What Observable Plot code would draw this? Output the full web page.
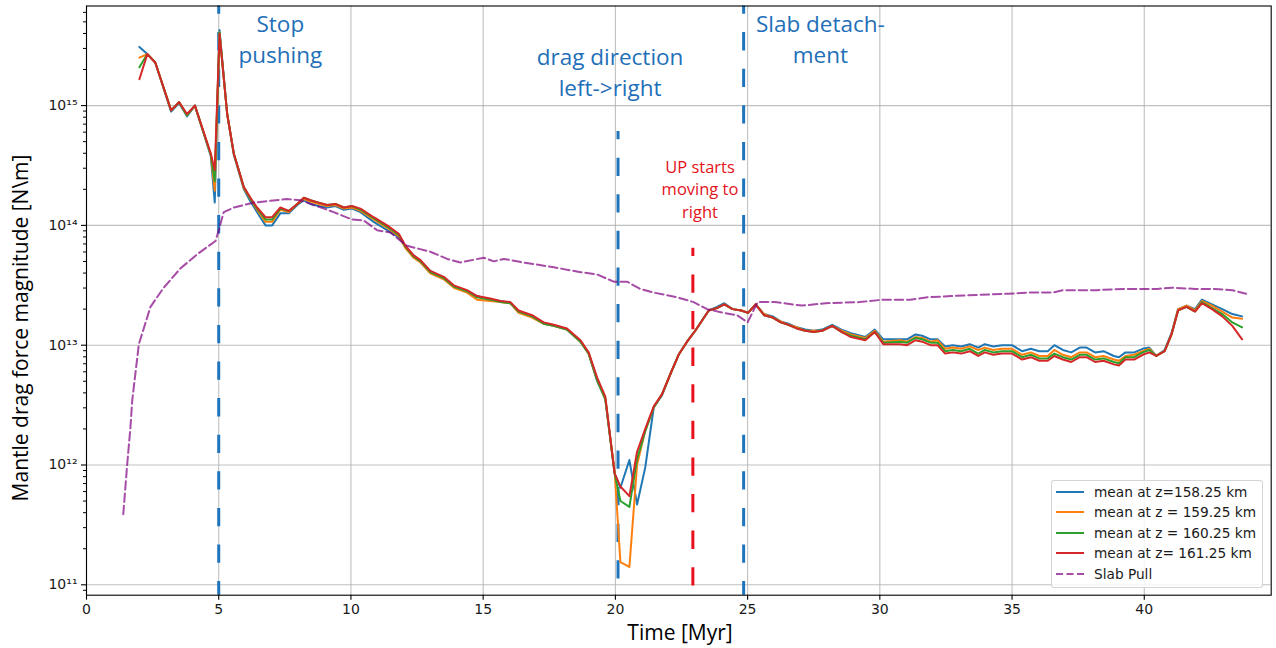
<!DOCTYPE html>
<html>
<head>
<meta charset="utf-8">
<script src="https://cdn.jsdelivr.net/npm/d3@7"></script>
<script src="https://cdn.jsdelivr.net/npm/@observablehq/plot@0.6"></script>
<style>
  html, body { margin: 0; padding: 0; background: #fff; }
  #wrap { position: relative; width: 1276px; height: 648px; overflow: hidden; }
  #chart svg { display: block; }
  .ylab { position: absolute; left: 20px; top: 328px; transform: translate(-50%, -50%) rotate(-90deg);
          font-family: "Open Sans"; font-size: 21px; white-space: nowrap; color: #000; line-height: 1; }
  .xlab { position: absolute; left: 680px; top: 632px; transform: translate(-50%, -50%);
          font-family: "Open Sans"; font-size: 21px; white-space: nowrap; color: #000; line-height: 1; }
  .legend { position: absolute; left: 1051px; top: 480px; width: 212px; height: 108px; box-sizing: border-box;
            border: 1px solid rgba(204,204,204,0.85); border-radius: 3px; background: rgba(255,255,255,0.8); }
  .row { position: absolute; left: 0; height: 20px; width: 210px; }
  .row svg { position: absolute; left: 3px; top: 0; }
  .row span { position: absolute; left: 42px; top: 0; line-height: 20px; font-family: "DejaVu Sans";
              font-size: 13.7px; color: #1a1a1a; white-space: nowrap; }
</style>
</head>
<body>
<div id="wrap">
  <div id="chart"></div>
  <div class="ylab">Mantle drag force magnitude [N\m]</div>
  <div class="xlab">Time [Myr]</div>
  <div class="legend" id="legend"></div>
</div>
<script>
// ---- time axis of the four mean series (Myr) ----
const time = [
  2.0, 2.3, 2.6, 3.2, 3.5, 3.8, 4.1, 4.7, 4.85, 5.03,
  5.32, 5.57, 5.95, 6.2, 6.45, 6.77, 7.02, 7.33, 7.65, 7.97,
  8.22, 8.47, 8.78, 9.1, 9.41, 9.73, 10.04, 10.36, 10.86, 11.37,
  11.81, 12.06, 12.37, 12.63, 13.0, 13.51, 13.89, 14.39, 14.77, 15.27,
  15.65, 16.03, 16.34, 16.85, 17.29, 17.67, 18.17, 18.68, 18.99, 19.31,
  19.62, 19.97, 20.19, 20.53, 20.82, 21.13, 21.45, 21.76, 22.08, 22.39,
  22.71, 23.02, 23.53, 23.84, 24.12, 24.43, 24.76, 25.02, 25.3, 25.62,
  25.95, 26.25, 26.54, 26.86, 27.18, 27.5, 27.82, 28.2, 28.55, 28.91,
  29.45, 29.81, 30.13, 30.77, 31.03, 31.35, 31.6, 31.92, 32.18, 32.47,
  32.76, 33.08, 33.4, 33.72, 33.97, 34.29, 34.62, 35.0, 35.38, 35.71,
  36.03, 36.35, 36.6, 36.92, 37.24, 37.56, 37.82, 38.14, 38.46, 38.85,
  39.04, 39.29, 39.62, 39.94, 40.19, 40.45, 40.77, 41.03, 41.28, 41.6,
  41.92, 42.18, 42.56, 42.95, 43.33, 43.7
];

// ---- mean drag force at z = 158.25 km (N/m) ----
const meanZ158 = [
  3.09e15, 2.69e15, 2.29e15, 8.91e14, 1.05e15, 8.13e14, 1.00e15, 3.80e14, 1.55e14, 4.27e15,
  8.51e14, 3.89e14, 2.00e14, 1.58e14, 1.29e14, 1.00e14, 1.00e14, 1.26e14, 1.26e14, 1.48e14,
  1.62e14, 1.51e14, 1.45e14, 1.41e14, 1.45e14, 1.35e14, 1.38e14, 1.29e14, 1.07e14, 9.12e13,
  7.94e13, 6.61e13, 5.62e13, 5.01e13, 4.17e13, 3.63e13, 3.09e13, 2.82e13, 2.57e13, 2.40e13,
  2.34e13, 2.24e13, 1.91e13, 1.74e13, 1.51e13, 1.45e13, 1.35e13, 1.07e13, 8.51e12, 5.01e12,
  3.55e12, 8.51e11, 6.46e11, 1.10e12, 4.68e11, 9.55e11, 3.02e12, 3.80e12, 5.75e12, 8.32e12,
  1.07e13, 1.32e13, 1.95e13, 2.09e13, 2.24e13, 2.00e13, 1.95e13, 1.86e13, 2.19e13, 1.82e13,
  1.74e13, 1.58e13, 1.51e13, 1.41e13, 1.35e13, 1.32e13, 1.35e13, 1.48e13, 1.35e13, 1.26e13,
  1.17e13, 1.35e13, 1.12e13, 1.12e13, 1.12e13, 1.23e13, 1.20e13, 1.12e13, 1.12e13, 9.77e12,
  1.00e13, 9.77e12, 1.02e13, 9.55e12, 1.02e13, 9.77e12, 1.00e13, 1.00e13, 8.91e12, 9.33e12,
  8.91e12, 8.91e12, 1.00e13, 9.12e12, 8.71e12, 9.55e12, 9.55e12, 8.71e12, 8.91e12, 8.13e12,
  7.94e12, 8.71e12, 8.71e12, 9.33e12, 9.55e12, 8.13e12, 9.12e12, 1.26e13, 2.00e13, 2.14e13,
  2.00e13, 2.40e13, 2.19e13, 2.00e13, 1.82e13, 1.74e13
];

// ---- mean drag force at z = 159.25 km ----
const meanZ159 = [
  2.51e15, 2.69e15, 2.29e15, 9.12e14, 1.07e15, 8.32e14, 1.00e15, 3.89e14, 1.95e14, 4.07e15,
  8.51e14, 3.98e14, 2.04e14, 1.66e14, 1.35e14, 1.07e14, 1.07e14, 1.35e14, 1.29e14, 1.51e14,
  1.66e14, 1.58e14, 1.51e14, 1.45e14, 1.48e14, 1.38e14, 1.41e14, 1.32e14, 1.12e14, 9.55e13,
  8.13e13, 6.46e13, 5.37e13, 4.90e13, 3.98e13, 3.55e13, 3.02e13, 2.75e13, 2.40e13, 2.34e13,
  2.29e13, 2.24e13, 1.86e13, 1.70e13, 1.51e13, 1.45e13, 1.35e13, 1.07e13, 8.51e12, 5.13e12,
  3.55e12, 8.91e11, 1.55e11, 1.41e11, 1.00e12, 1.95e12, 3.02e12, 3.89e12, 5.75e12, 8.32e12,
  1.07e13, 1.32e13, 1.95e13, 2.04e13, 2.19e13, 2.00e13, 1.95e13, 1.86e13, 2.19e13, 1.82e13,
  1.70e13, 1.58e13, 1.48e13, 1.41e13, 1.32e13, 1.32e13, 1.32e13, 1.45e13, 1.32e13, 1.23e13,
  1.15e13, 1.32e13, 1.07e13, 1.10e13, 1.07e13, 1.17e13, 1.15e13, 1.07e13, 1.10e13, 9.33e12,
  9.55e12, 9.33e12, 9.77e12, 9.12e12, 9.55e12, 9.12e12, 9.33e12, 9.33e12, 8.32e12, 8.71e12,
  8.13e12, 8.13e12, 9.12e12, 8.32e12, 7.94e12, 8.71e12, 8.71e12, 7.94e12, 8.13e12, 7.59e12,
  7.41e12, 8.13e12, 8.32e12, 8.91e12, 9.33e12, 8.13e12, 8.91e12, 1.23e13, 2.00e13, 2.14e13,
  1.95e13, 2.34e13, 2.14e13, 1.91e13, 1.70e13, 1.66e13
];

// ---- mean drag force at z = 160.25 km ----
const meanZ160 = [
  2.09e15, 2.69e15, 2.29e15, 9.12e14, 1.07e15, 8.32e14, 1.00e15, 3.89e14, 2.34e14, 4.07e15,
  8.51e14, 3.98e14, 2.09e14, 1.66e14, 1.38e14, 1.12e14, 1.12e14, 1.38e14, 1.32e14, 1.51e14,
  1.70e14, 1.62e14, 1.55e14, 1.48e14, 1.51e14, 1.41e14, 1.45e14, 1.35e14, 1.15e14, 9.77e13,
  8.32e13, 6.61e13, 5.50e13, 5.01e13, 4.07e13, 3.63e13, 3.09e13, 2.82e13, 2.51e13, 2.40e13,
  2.29e13, 2.24e13, 1.91e13, 1.74e13, 1.51e13, 1.45e13, 1.35e13, 1.07e13, 8.51e12, 5.13e12,
  3.55e12, 8.51e11, 5.01e11, 4.47e11, 1.12e12, 1.91e12, 3.02e12, 3.89e12, 5.75e12, 8.32e12,
  1.07e13, 1.32e13, 1.95e13, 2.04e13, 2.19e13, 2.00e13, 1.95e13, 1.86e13, 2.19e13, 1.78e13,
  1.70e13, 1.55e13, 1.48e13, 1.38e13, 1.32e13, 1.29e13, 1.32e13, 1.45e13, 1.29e13, 1.20e13,
  1.12e13, 1.29e13, 1.05e13, 1.07e13, 1.05e13, 1.15e13, 1.12e13, 1.05e13, 1.05e13, 8.91e12,
  9.12e12, 8.91e12, 9.33e12, 8.51e12, 9.12e12, 8.71e12, 8.91e12, 8.91e12, 7.94e12, 8.32e12,
  7.76e12, 7.76e12, 8.51e12, 7.94e12, 7.59e12, 8.32e12, 8.32e12, 7.59e12, 7.76e12, 7.24e12,
  7.08e12, 7.94e12, 7.94e12, 8.71e12, 9.12e12, 8.13e12, 8.91e12, 1.23e13, 1.95e13, 2.09e13,
  1.91e13, 2.29e13, 2.04e13, 1.82e13, 1.55e13, 1.41e13
];

// ---- mean drag force at z = 161.25 km ----
const meanZ161 = [
  1.66e15, 2.69e15, 2.29e15, 9.12e14, 1.07e15, 8.51e14, 1.00e15, 3.98e14, 2.88e14, 3.98e15,
  8.51e14, 3.98e14, 2.09e14, 1.70e14, 1.41e14, 1.17e14, 1.17e14, 1.41e14, 1.32e14, 1.51e14,
  1.70e14, 1.62e14, 1.55e14, 1.48e14, 1.51e14, 1.41e14, 1.45e14, 1.38e14, 1.17e14, 1.00e14,
  8.51e13, 6.76e13, 5.62e13, 5.13e13, 4.17e13, 3.72e13, 3.16e13, 2.88e13, 2.57e13, 2.45e13,
  2.34e13, 2.29e13, 1.95e13, 1.78e13, 1.55e13, 1.48e13, 1.38e13, 1.10e13, 8.71e12, 5.37e12,
  3.72e12, 8.51e11, 6.61e11, 5.50e11, 1.29e12, 2.00e12, 3.09e12, 3.89e12, 5.75e12, 8.32e12,
  1.07e13, 1.32e13, 1.95e13, 2.04e13, 2.19e13, 2.00e13, 1.95e13, 1.86e13, 2.19e13, 1.78e13,
  1.70e13, 1.55e13, 1.48e13, 1.38e13, 1.32e13, 1.29e13, 1.32e13, 1.45e13, 1.29e13, 1.17e13,
  1.10e13, 1.29e13, 1.02e13, 1.02e13, 1.00e13, 1.10e13, 1.07e13, 1.00e13, 1.00e13, 8.51e12,
  8.71e12, 8.51e12, 8.91e12, 8.13e12, 8.71e12, 8.32e12, 8.51e12, 8.51e12, 7.59e12, 7.94e12,
  7.41e12, 7.41e12, 8.13e12, 7.59e12, 7.24e12, 7.94e12, 7.94e12, 7.24e12, 7.41e12, 6.92e12,
  6.76e12, 7.59e12, 7.59e12, 8.32e12, 8.71e12, 8.13e12, 8.91e12, 1.23e13, 1.95e13, 2.09e13,
  1.91e13, 2.24e13, 2.00e13, 1.74e13, 1.45e13, 1.12e13
];

// ---- slab pull ----
const slabPullTime = [
  1.39, 1.54, 1.66, 1.73, 1.98, 2.42, 2.92, 3.55, 4.19, 4.88,
  5.0, 5.19, 5.57, 6.33, 7.59, 8.09, 8.6, 9.35, 10.04, 10.48,
  10.99, 11.49, 12.12, 13.0, 13.64, 14.14, 15.02, 15.4, 15.78, 16.53,
  17.67, 18.68, 19.31, 19.94, 20.44, 20.94, 21.45, 22.33, 22.96, 23.47,
  24.1, 24.6, 25.0, 25.38, 26.03, 27.05, 27.95, 29.23, 30.13, 31.15,
  31.8, 32.7, 33.7, 34.87, 35.64, 36.54, 36.92, 38.2, 39.23, 40.5,
  41.03, 41.92, 42.69, 43.33, 43.85
];
const slabPull = [
  3.89e11, 1.02e12, 2.04e12, 3.47e12, 1.02e13, 2.09e13, 3.02e13, 4.37e13, 5.75e13, 7.41e13,
  9.12e13, 1.29e14, 1.41e14, 1.55e14, 1.66e14, 1.62e14, 1.48e14, 1.29e14, 1.12e14, 1.10e14,
  9.12e13, 8.71e13, 6.76e13, 6.03e13, 5.25e13, 4.90e13, 5.37e13, 5.01e13, 5.25e13, 4.90e13,
  4.47e13, 4.07e13, 3.89e13, 3.39e13, 3.39e13, 2.95e13, 2.75e13, 2.51e13, 2.29e13, 2.00e13,
  1.86e13, 1.78e13, 1.55e13, 2.29e13, 2.29e13, 2.14e13, 2.24e13, 2.29e13, 2.40e13, 2.40e13,
  2.51e13, 2.57e13, 2.63e13, 2.69e13, 2.75e13, 2.75e13, 2.88e13, 2.88e13, 2.95e13, 2.95e13,
  3.02e13, 2.95e13, 2.95e13, 2.88e13, 2.69e13
];

// ---- legend / series ----
const seriesNames = ["mean at z=158.25 km", "mean at z = 159.25 km", "mean at z = 160.25 km", "mean at z= 161.25 km", "Slab Pull"];
const seriesColors = ["#1f77b4", "#ff7f0e", "#2ca02c", "#d62728", "#a64da6"];

// ---- event markers ----
const eventTimes = [5.0, 20.1, 24.85];
const eventTops = [6.78e15, 6.07e14, 6.78e15];
const upTimes = [22.93];
const upTops = [6.44e13];

// ---- annotations ----
const noteTexts = ["Stop\npushing", "drag direction\nleft->right", "Slab detach-\nment"];
const noteTimes = [7.33, 19.8, 27.75];
const noteValues = [3.73e15, 1.96e15, 3.73e15];
const upTexts = ["UP starts\nmoving to\nright"];
const upTextTimes = [23.2];
const upTextValues = [2.05e14];

// ---- axes ----
const xDomain = [0, 44.8];
const yDomain = [8.19e10, 6.78e15];
const xTicks = [0, 5, 10, 15, 20, 25, 30, 35, 40];
const yTicks = [1e11, 1e12, 1e13, 1e14, 1e15];
const yTickLabels = ["10\u00B9\u00B9", "10\u00B9\u00B2", "10\u00B9\u00B3", "10\u00B9\u2074", "10\u00B9\u2075"];
const yMinorTicks = [];
for (let k = 10; k <= 15; k++) for (let m = 2; m <= 9; m++) {
  const v = m * Math.pow(10, k);
  if (v >= yDomain[0] && v <= yDomain[1]) yMinorTicks.push(v);
}

const rows = (ts, vs) => ts.map((t, i) => ({t, v: vs[i]}));
const meanSeries = [meanZ158, meanZ159, meanZ160, meanZ161];

const blueEvents = eventTimes.map((t, i) => ({t, top: eventTops[i], bottom: yDomain[0]}));
const redEvents = upTimes.map((t, i) => ({t, top: upTops[i], bottom: yDomain[0]}));
const notes = noteTexts.map((s, i) => ({s, t: noteTimes[i], v: noteValues[i]}));
const upNotes = upTexts.map((s, i) => ({s, t: upTextTimes[i], v: upTextValues[i]}));

const chart = Plot.plot({
  width: 1276,
  height: 648,
  marginLeft: 86,
  marginRight: 5.3,
  marginTop: 5.5,
  marginBottom: 53.3,
  style: {background: "transparent", fontFamily: "DejaVu Sans", fontSize: "14px"},
  x: {domain: xDomain, label: null},
  y: {type: "log", domain: yDomain, label: null},
  marks: [
    Plot.gridX({ticks: xTicks, stroke: "#b0b0b0", strokeOpacity: 0.8, strokeWidth: 1.1}),
    Plot.gridY({ticks: yTicks, stroke: "#b0b0b0", strokeOpacity: 0.8, strokeWidth: 1.1}),
    Plot.ruleX(blueEvents, {x: "t", y1: "top", y2: "bottom", stroke: "#1f75bb", strokeWidth: 3,
      strokeDasharray: "18.3,18.3", strokeDashoffset: 10}),
    Plot.ruleX(redEvents, {x: "t", y1: "top", y2: "bottom", stroke: "#e8101a", strokeWidth: 3,
      strokeDasharray: "18.3,18.3", strokeDashoffset: 10}),
    ...meanSeries.map((s, i) => Plot.line(rows(time, s), {x: "t", y: "v", stroke: seriesColors[i], strokeWidth: 2})),
    Plot.line(rows(slabPullTime, slabPull), {x: "t", y: "v", stroke: "#800080", strokeOpacity: 0.7,
      strokeWidth: 2, strokeDasharray: "8.5,3.8"}),
    Plot.text(notes, {x: "t", y: "v", text: "s", fill: "#1f70b8", fontSize: 22.5, fontFamily: "Open Sans",
      lineHeight: 1.38, textAnchor: "middle"}),
    Plot.text(upNotes, {x: "t", y: "v", text: "s", fill: "#e3131b", fontSize: 16.5, fontFamily: "Open Sans",
      lineHeight: 1.36, textAnchor: "middle"}),
    Plot.axisX({ticks: xTicks, tickSize: 5, tickPadding: 4, fontSize: 14, fontFamily: "DejaVu Sans",
      fill: "#1a1a1a", stroke: "#000", strokeWidth: 1.1, label: null}),
    Plot.axisY({ticks: yTicks, tickFormat: d => yTickLabels[yTicks.indexOf(d)], tickSize: 5, tickPadding: 4,
      fontSize: 14, fontFamily: "DejaVu Sans", fill: "#1a1a1a", stroke: "#000", strokeWidth: 1.1, label: null}),
    Plot.axisY({ticks: yMinorTicks, tickFormat: () => "", tickSize: 3, stroke: "#000", strokeWidth: 1, label: null}),
    Plot.frame({stroke: "#000", strokeWidth: 1.1})
  ]
});
document.getElementById("chart").appendChild(chart);

// ---- legend ----
const legend = document.getElementById("legend");
const rowCenters = [10.7, 31.2, 51.7, 72.0, 92.5];
seriesNames.forEach((name, i) => {
  const row = document.createElement("div");
  row.className = "row";
  row.style.top = (rowCenters[i] - 10) + "px";
  const dashed = i === 4;
  row.innerHTML =
    `<svg width="30" height="20"><line x1="1" x2="29" y1="10" y2="10" stroke="${seriesColors[i]}" stroke-width="2"` +
    (dashed ? ` stroke-dasharray="7,3.5"` : ``) + `/></svg><span>${name}</span>`;
  legend.appendChild(row);
});
</script>
</body>
</html>
